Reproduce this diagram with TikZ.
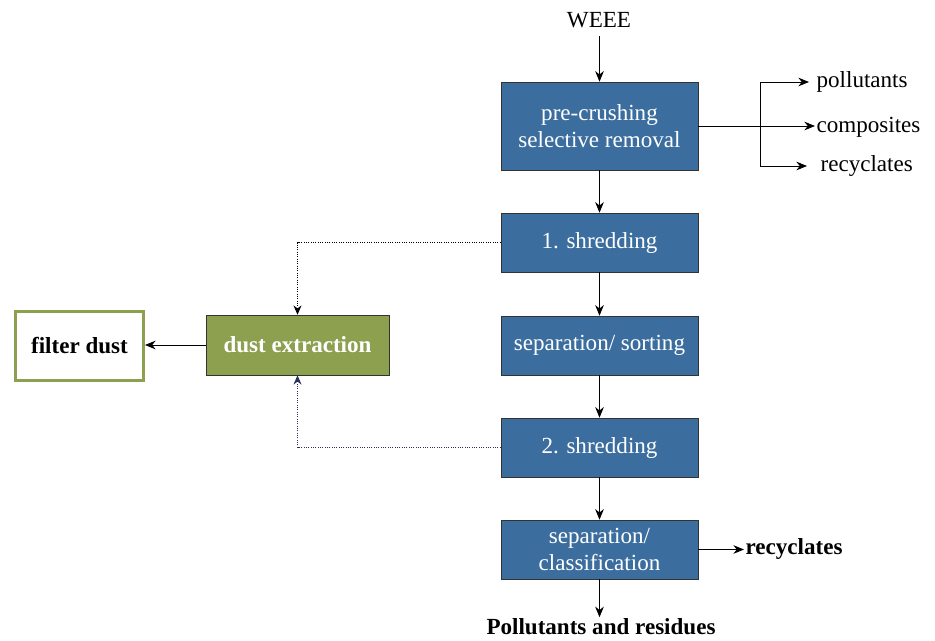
\documentclass[tikz,border=0pt]{standalone}
\usepackage{fontspec}
\setmainfont{Liberation Serif}
\usetikzlibrary{arrows.meta}
\definecolor{boxblue}{RGB}{59,110,158}
\definecolor{boxgreen}{RGB}{141,160,80}
\definecolor{navy}{RGB}{40,50,90}
\begin{document}
\begin{tikzpicture}[x=0.75pt,y=-0.75pt,
  proc/.style={draw=black!80,fill=boxblue,text=white,minimum width=197*0.75pt,minimum height=59*0.75pt,align=center,inner sep=0pt,font=\fontsize{17.3}{20}\selectfont},
  lbl/.style={font=\fontsize{17.3}{20}\selectfont,inner sep=1pt},
  blbl/.style={font=\fontsize{17.3}{20}\selectfont\bfseries,inner sep=1pt},
  arr/.style={-{Stealth[length=8pt,width=6.5pt]},line width=0.75pt},
  dotarr/.style={-{Stealth[length=7pt,width=6pt]},line width=0.75pt,densely dotted}]
\useasboundingbox (0,0) rectangle (935,640);
\node[lbl] (weee) at (599,20) {WEEE};
\node[proc,minimum height=88*0.75pt] (pre) at (599.5,126) {pre-crushing\\selective removal};
\node[proc] (s1) at (599.5,242.5) {1. shredding};
\node[proc] (sep) at (599.5,345.5) {separation/ sorting};
\node[proc] (s2) at (599.5,447.5) {2. shredding};
\node[proc] (cls) at (599.5,549.5) {separation/\\classification};
\node[proc,fill=boxgreen,minimum width=183*0.75pt,minimum height=60*0.75pt,font=\fontsize{17.3}{20}\selectfont\bfseries] (dust) at (297.5,345) {dust extraction};
\node[draw=boxgreen,line width=2.2pt,fill=white,minimum width=128*0.75pt,minimum height=69*0.75pt,inner sep=0pt,font=\fontsize{17.3}{20}\selectfont\bfseries] (filter) at (79.5,346) {filter dust};
\node[lbl,anchor=west] (pol) at (815,82) {pollutants};
\node[lbl,anchor=west] (comp) at (815,127) {composites};
\node[lbl,anchor=west] (rec) at (819,166) {recyclates};
\node[blbl,anchor=west] (rec2) at (744,549) {recyclates};
\node[blbl] (res) at (601,627) {Pollutants and residues};
\coordinate (br) at (760,126);
\coordinate (wtop) at (599.5,36);
\draw[arr] (wtop) -- (pre.north);
\draw[arr] (pre) -- (s1);
\draw[arr] (s1) -- (sep);
\draw[arr] (sep) -- (s2);
\draw[arr] (s2) -- (cls);
\draw[arr] (cls.south) -- (cls.south|-res.north);
\draw[arr] (pre.east|-br) -- (comp.west|-br);
\draw[arr] (br|-pol) -- ([xshift=-6*0.75pt]pol.west);
\draw[arr] (br|-rec) -- ([xshift=-12*0.75pt]rec.west);
\draw[line width=0.75pt] (br|-pol) -- (br|-rec);
\draw[arr] (cls.east) -- (cls.east-|rec2.west);
\draw[arr] (dust.west) -- (dust.west-|filter.east);
\draw[dotarr] (s1.west) -| (dust.north);
\draw[dotarr,navy] (s2.west) -| (dust.south);
\end{tikzpicture}
\end{document}
